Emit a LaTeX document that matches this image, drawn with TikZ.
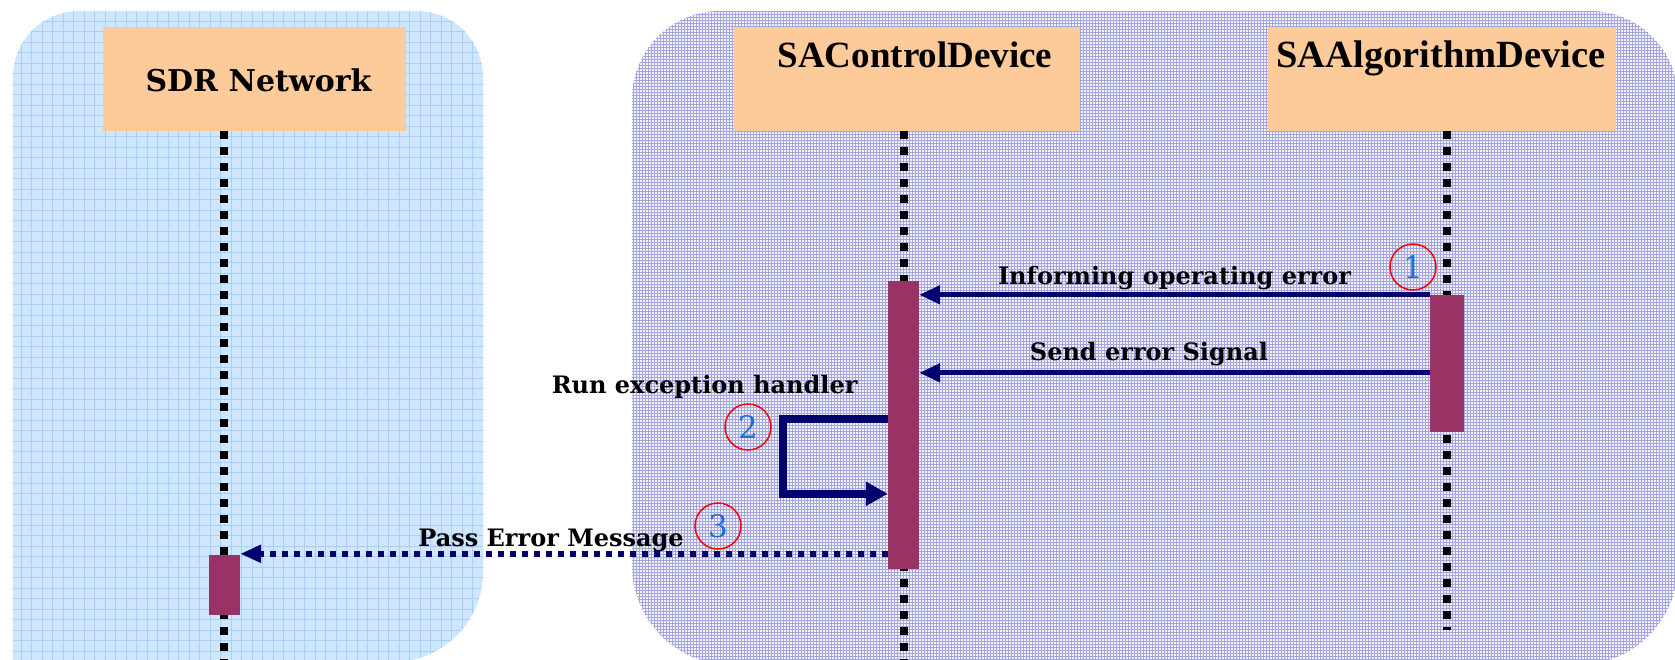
\documentclass[tikz,border=0pt]{standalone}
\usepackage{fontspec}
\setmainfont{DejaVu Serif}
\newfontfamily\titlefont{Liberation Serif}
\usepackage{tikz}
\usetikzlibrary{arrows.meta}
\usetikzlibrary{patterns}

\definecolor{peach}{RGB}{253,203,153}
\definecolor{barred}{RGB}{153,51,102}
\definecolor{navyline}{RGB}{0,0,110}
\definecolor{skyback}{RGB}{206,230,255}
\definecolor{skygrid}{RGB}{168,207,248}
\definecolor{lavback}{RGB}{242,242,252}
\definecolor{lavgrid}{RGB}{165,165,222}
\definecolor{numblue}{RGB}{30,110,215}

\tikzset{
    actor/.style={shape=rectangle, fill=peach, inner sep=0pt, minimum height=104pt},
    actortitle/.style={anchor=base, font=\titlefont\bfseries\fontsize{#1}{#1}\selectfont},
    lifeline/.style={line width=8pt, dash pattern=on 8pt off 8pt},
    bar/.style={shape=rectangle, fill=barred, inner sep=0pt},
    msg/.style={navyline, line width=5pt, -{Triangle[length=21pt, width=18pt]}},
    selfmsg/.style={navyline, line width=8pt, -{Triangle[length=22pt, width=23pt]}},
    passmsg/.style={navyline, line width=6pt, dash pattern=on 6pt off 6pt, -{Triangle[length=21pt, width=17pt]}},
    msglabel/.style={anchor=base, text=black, font=\bfseries\fontsize{24}{24}\selectfont},
    stepnum/.style={shape=circle, draw=red, line width=1.5pt, minimum size=46pt, inner sep=0pt,
        text=numblue, font=\fontsize{31}{31}\selectfont}
}

\begin{document}
\begin{tikzpicture}[x=1pt, y=-1pt]
    \useasboundingbox (0,0) rectangle (1675,659);

    % left panel
    \begin{scope}
        \clip (13,662) -- (13,77) .. controls (13,40.5) and (42.5,11) .. (79,11) -- (417,11)
            .. controls (453.5,11) and (483,40.5) .. (483,77) -- (483,572)
            .. controls (483,621.7) and (442.7,662) .. (393,662) -- cycle;
        \fill[skyback] (0,670) rectangle (500,0);
        \draw[skygrid, line width=1pt, step=10.5pt] (0,670) grid (500,0);
    \end{scope}

    % right panel
    \fill[lavback, postaction={pattern=grid, pattern color=lavgrid}]
        (632,99) .. controls (632,50.4) and (671.4,11) .. (720,11) -- (1590,11)
        .. controls (1638.6,11) and (1678,50.4) .. (1678,99) -- (1678,565)
        .. controls (1678,620.2) and (1633.2,665) .. (1578,665) -- (732,665)
        .. controls (676.8,665) and (632,620.2) .. (632,565) -- cycle;

    % actors
    \node[actor, minimum width=303pt] (sdr) at (254.5,79) {};
    \node[actor, minimum width=346pt] (ctrl) at (907,79) {};
    \node[actor, minimum width=348pt] (alg) at (1442,79) {};
    \node[anchor=base, font=\bfseries\fontsize{30}{30}\selectfont] (sdrTitle) at (258.5,91) {SDR Network};
    \node[actortitle=37] (ctrlTitle) at (915,67) {SAControlDevice};
    \node[actortitle=38.5] (algTitle) at (1441,67) {SAAlgorithmDevice};

    % lifelines
    \coordinate (sdrEnd) at (224,665);
    \coordinate (ctrlEnd) at (904,665);
    \coordinate (algEnd) at (1447,630);
    \draw[lifeline] (sdr.south -| sdrEnd) -- (sdrEnd);
    \draw[lifeline] (ctrl.south -| ctrlEnd) -- (ctrlEnd);
    \draw[lifeline] (alg.south -| algEnd) -- (algEnd);

    % activation bars
    \node[bar, minimum width=31pt, minimum height=60pt] (sbar) at (224.5,585) {};
    \node[bar, minimum width=31pt, minimum height=288pt] (cbar) at (903.5,425) {};
    \node[bar, minimum width=34pt, minimum height=137pt] (abar) at (1447,363.5) {};

    % messages
    \draw[msg] (abar.north west) -- (abar.north west -| cbar.east)
        node[msglabel, midway, yshift=10pt] (informLabel) {Informing operating error};
    \draw[msg] ([yshift=-78pt]abar.north west) -- ([yshift=-78pt]abar.north west -| cbar.east)
        node[msglabel, pos=0.55, yshift=12pt] (sendLabel) {Send error Signal};
    \draw[selfmsg] ([yshift=-138pt]cbar.north west) -- ++(-105,0) |- ([yshift=-213pt]cbar.north west);
    \node[msglabel, anchor=base east] (runLabel) at (861,393) {Run exception handler};
    \draw[passmsg] ([yshift=-273pt]cbar.north west) -- ([yshift=-273pt]cbar.north west -| sbar.east)
        node[msglabel, pos=0.52, yshift=7pt] (passLabel) {Pass Error Message};

    % step numbers
    \node[stepnum] (one) at (1413,267) {1};
    \node[stepnum] (two) at (748,427) {2};
    \node[stepnum] (three) at (718,526) {3};

\end{tikzpicture}
\end{document}
